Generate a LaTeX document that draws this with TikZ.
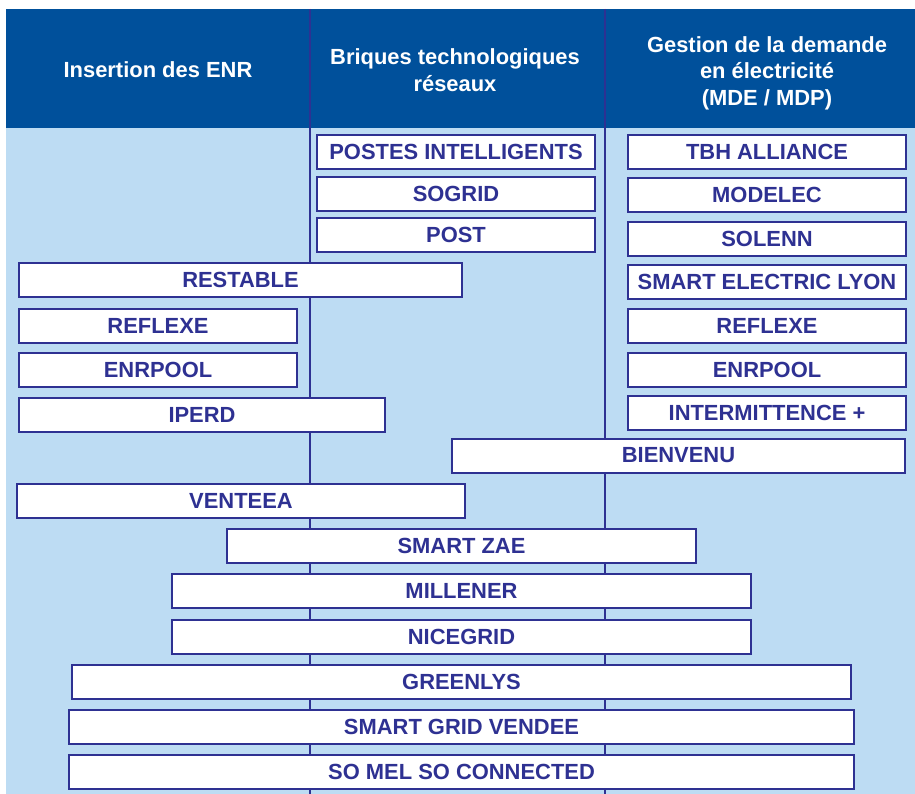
\documentclass[tikz,border=0pt]{standalone}
\usepackage{fontspec}
\setmainfont{Liberation Sans}
\definecolor{hdrblue}{RGB}{0,80,155}
\definecolor{paleblue}{RGB}{189,220,243}
\definecolor{navy}{RGB}{46,49,146}
\tikzset{
  proj/.style={draw=navy,line width=2bp,fill=white,text=navy,inner sep=0pt,
    minimum width=#1,minimum height=34bp,font=\fontsize{22}{26}\selectfont\bfseries},
  head/.style={text=white,align=center,font=\fontsize{22}{26.5}\selectfont\bfseries}
}

\begin{document}
\begin{tikzpicture}[x=1bp,y=-1bp]
\useasboundingbox (0,0) rectangle (915,794);
\fill[paleblue] (6,9) rectangle (915,794);
\fill[hdrblue] (6,9) rectangle (915,128);
\draw[navy,line width=2bp] (310,9) -- (310,794) (605,9) -- (605,794);
% column heads
\node[head] (hins) at (158,70) {Insertion des ENR};
\node[head] (hbri) at (455,70) {Briques technologiques\\réseaux};
\node[head] (hmde) at (767,73) {Gestion de la demande\\en électricité\\(MDE / MDP)};
% projects
\node[proj=278bp] (postes) at (456,151.5) {POSTES INTELLIGENTS};
\node[proj=278bp] (sogrid) at (456,193.5) {SOGRID};
\node[proj=278bp] (post) at (456,235) {POST};
\node[proj=278bp] (tbh) at (767,151.5) {TBH ALLIANCE};
\node[proj=278bp] (modelec) at (767,194.5) {MODELEC};
\node[proj=278bp] (solenn) at (767,238.5) {SOLENN};
\node[proj=278bp] (lyon) at (767,281.5) {SMART ELECTRIC LYON};
\node[proj=278bp] (reflexeR) at (767,325.5) {REFLEXE};
\node[proj=278bp] (enrpoolR) at (767,369.5) {ENRPOOL};
\node[proj=278bp] (intermit) at (767,412.5) {INTERMITTENCE +};
\node[proj=443bp] (restable) at (240.5,279.5) {RESTABLE};
\node[proj=278bp] (reflexeL) at (158,325.5) {REFLEXE};
\node[proj=278bp] (enrpoolL) at (158,369.5) {ENRPOOL};
\node[proj=366bp] (iperd) at (202,414.5) {IPERD};
\node[proj=453bp] (bienvenu) at (678.5,455.5) {BIENVENU};
\node[proj=448bp] (venteea) at (241,500.5) {VENTEEA};
\node[proj=469bp] (smartzae) at (461.5,545.5) {SMART ZAE};
\node[proj=579bp] (millener) at (461.5,590.5) {MILLENER};
\node[proj=579bp] (nicegrid) at (461.5,636.5) {NICEGRID};
\node[proj=779bp] (greenlys) at (461.5,681.5) {GREENLYS};
\node[proj=785bp] (vendee) at (461.5,726.5) {SMART GRID VENDEE};
\node[proj=785bp] (somel) at (461.5,771.5) {SO MEL SO CONNECTED};
\end{tikzpicture}
\end{document}
